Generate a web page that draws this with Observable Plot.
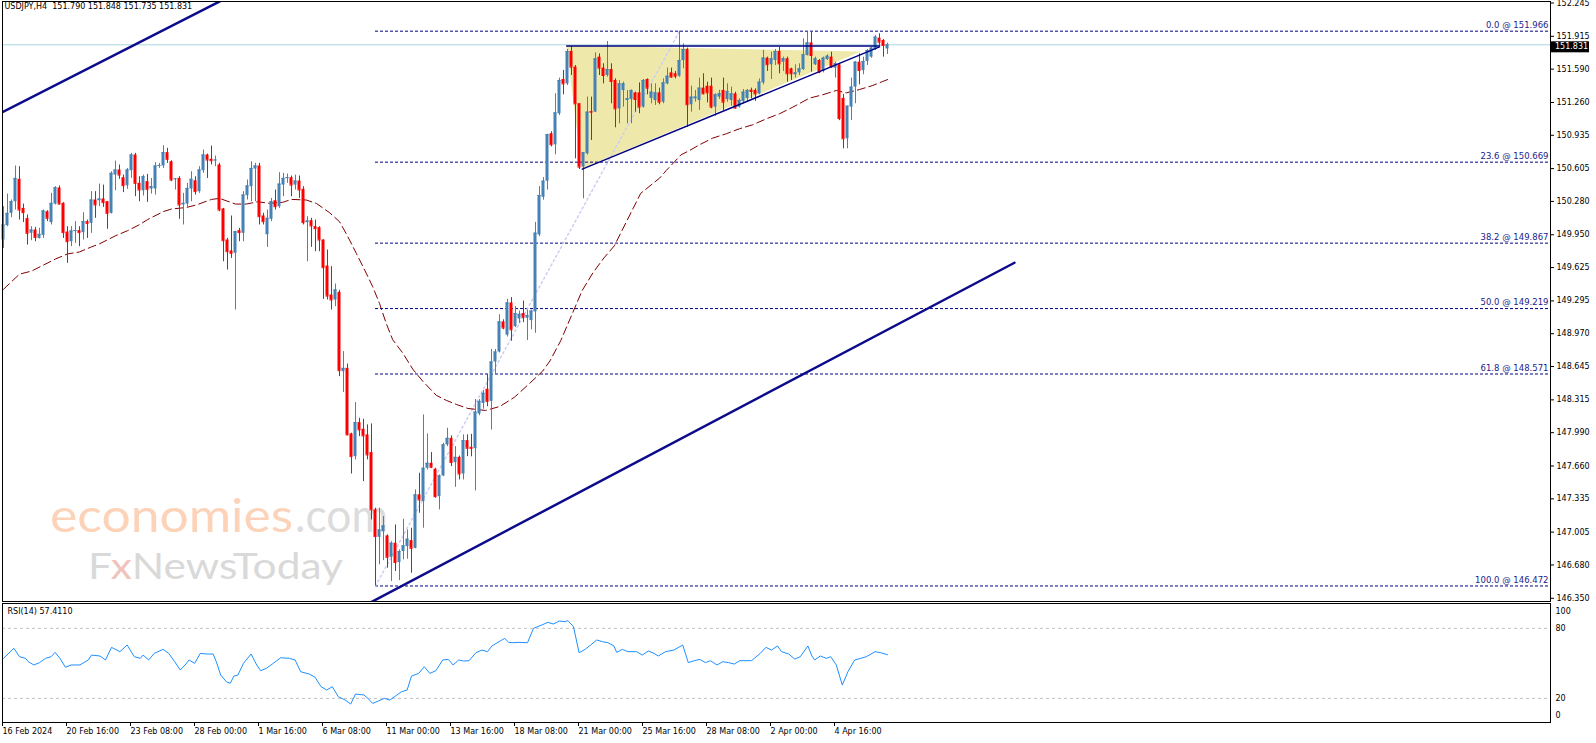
<!DOCTYPE html>
<html>
<head>
<meta charset="utf-8">
<script src="https://cdn.jsdelivr.net/npm/d3@7"></script>
<script src="https://cdn.jsdelivr.net/npm/@observablehq/plot@0.6"></script>
<style>
  html, body { margin: 0; padding: 0; background: #ffffff; }
  #wrap { position: relative; width: 1596px; height: 743px; overflow: hidden; background: #fff; }
  #wm { position: absolute; left: 0; top: 0; }
  #main { position: absolute; left: 0; top: 0; }
  #rsi { position: absolute; left: 0; top: 603px; }
</style>
</head>
<body>
<div id="wrap">
  <svg id="wm" width="1596" height="603">
    <text x="50" y="532" font-family="Lato" font-size="47" fill="#fcd3b9" textLength="243" lengthAdjust="spacingAndGlyphs">economies</text>
    <text x="295" y="532" font-family="Lato" font-size="47" fill="#dcdcdc" textLength="93" lengthAdjust="spacingAndGlyphs">.com</text>
    <text x="88" y="579" font-family="Lato" font-size="37" fill="#d9d9d9" textLength="255" lengthAdjust="spacingAndGlyphs">F<tspan fill="#f0c4bc">x</tspan>NewsToday</text>
  </svg>
  <div id="main"></div>
  <div id="rsi"></div>
</div>
<script>
// ---------------- DATA ----------------
const header = "USDJPY,H4  151.790 151.848 151.735 151.831";
const bid = 151.831;
const rsiLabel = "RSI(14) 57.4110";

const barOpen = [
149.898,150.040,150.162,150.277,150.499,150.211,150.110,149.964,149.997,149.914,
149.944,150.178,150.070,150.254,150.413,150.261,149.977,149.881,149.984,149.991,
149.971,150.080,150.063,150.294,150.287,150.304,150.277,150.162,150.541,150.591,
150.515,150.436,150.584,150.740,150.459,150.386,150.476,150.403,150.403,150.631,
150.631,150.763,150.673,150.499,150.508,150.245,150.254,150.403,150.485,150.377,
150.584,150.740,150.697,150.683,150.641,150.205,149.898,149.789,149.766,149.991,
149.964,150.337,150.426,150.601,150.631,150.136,149.950,150.103,150.287,150.228,
150.442,150.508,150.515,150.442,150.482,150.400,150.070,150.089,150.030,150.020,
149.898,149.640,149.353,149.304,149.380,148.594,148.627,147.978,147.753,148.090,
148.024,147.968,147.793,147.225,146.954,147.011,146.968,146.756,146.895,146.704,
146.813,146.862,146.921,146.845,147.374,147.308,147.638,147.687,147.628,147.357,
147.562,147.869,147.934,147.694,147.746,147.581,147.911,147.845,147.832,148.176,
148.280,148.420,148.300,148.690,148.789,149.087,148.956,149.275,149.040,149.116,
149.169,149.123,149.100,149.186,149.949,150.321,150.480,150.950,150.841,151.148,
151.487,151.444,151.765,151.610,151.247,150.620,150.752,151.171,151.164,151.709,
151.600,151.527,151.586,151.478,151.197,151.378,151.279,151.289,151.355,151.355,
151.214,151.487,151.300,151.279,151.355,151.263,151.444,151.553,151.544,151.520,
151.675,151.784,151.237,151.296,151.279,151.402,151.421,151.421,151.214,151.313,
151.379,151.289,151.280,151.345,151.214,151.270,151.300,151.382,151.379,151.345,
151.454,151.699,151.633,151.676,151.765,151.659,151.692,151.593,151.534,151.553,
151.586,151.725,151.850,151.633,151.676,151.567,151.685,151.709,151.600,151.633,
151.300,150.900,151.214,151.412,151.659,151.576,151.666,151.709,151.784,151.897,
151.874,151.790];

const barHigh = [
150.228,150.353,150.294,150.631,150.624,150.254,150.146,150.030,150.023,150.014,
150.195,150.188,150.360,150.426,150.433,150.268,150.030,150.030,150.080,150.030,
150.169,150.096,150.377,150.377,150.452,150.442,150.280,150.574,150.680,150.641,
150.541,150.607,150.756,150.756,150.525,150.541,150.548,150.508,150.664,150.657,
150.832,150.806,150.683,150.508,150.525,150.360,150.459,150.574,150.525,150.624,
150.789,150.749,150.829,150.730,150.657,150.211,149.914,150.136,149.985,150.014,
150.377,150.492,150.673,150.657,150.657,150.162,150.195,150.310,150.393,150.565,
150.558,150.551,150.532,150.541,150.532,150.426,150.129,150.113,150.096,150.030,
149.900,149.799,149.634,149.462,149.400,148.793,148.670,147.985,148.288,148.133,
148.123,148.067,148.077,147.242,147.242,147.159,146.978,146.911,147.077,146.829,
147.133,147.027,147.044,147.423,147.588,148.166,147.978,147.793,147.638,147.572,
147.885,148.034,147.958,147.852,147.759,147.968,147.968,147.974,148.318,148.318,
148.407,148.566,148.814,148.814,149.158,149.108,149.311,149.328,149.240,149.194,
149.293,149.204,149.204,150.073,150.427,150.516,150.945,150.970,151.346,151.501,
151.577,151.784,151.817,151.626,151.250,150.765,151.313,151.313,151.751,151.741,
151.643,151.864,151.643,151.494,151.478,151.461,151.378,151.385,151.362,151.454,
151.487,151.494,151.444,151.444,151.402,151.494,151.600,151.600,151.567,151.966,
151.840,151.798,151.421,151.378,151.501,151.544,151.461,151.501,151.346,151.380,
151.501,151.445,151.412,151.362,151.296,151.388,151.388,151.402,151.395,151.494,
151.775,151.709,151.758,151.784,151.807,151.709,151.709,151.600,151.633,151.643,
151.890,151.956,151.956,151.709,151.685,151.709,151.732,151.758,151.659,151.643,
151.340,151.223,151.501,151.666,151.742,151.709,151.784,151.807,151.923,151.940,
151.883,151.848];

const barLow = [
149.815,150.030,150.119,150.195,150.096,150.070,149.848,149.891,149.881,149.908,
149.914,150.080,150.047,150.245,150.245,149.914,149.667,149.832,149.865,149.832,
149.898,149.914,149.964,150.113,150.228,150.221,150.004,150.155,150.386,150.499,
150.367,150.400,150.508,150.327,150.277,150.334,150.271,150.353,150.343,150.607,
150.607,150.657,150.476,150.393,150.103,150.047,150.211,150.277,150.343,150.360,
150.558,150.508,150.641,150.624,150.178,149.683,149.601,149.716,149.205,149.881,
149.881,150.294,150.277,150.277,150.047,150.047,149.825,150.080,150.195,150.211,
150.327,150.459,150.327,150.393,150.310,150.047,149.683,149.825,149.782,149.782,
149.310,149.304,149.205,149.238,148.545,148.387,147.960,147.581,147.720,147.951,
147.506,147.720,147.126,146.473,146.681,146.723,146.648,146.516,146.615,146.525,
146.730,146.737,146.598,146.840,147.192,147.044,147.621,147.638,147.341,147.225,
147.555,147.852,147.654,147.449,147.522,147.522,147.753,147.751,147.414,148.158,
148.222,148.247,148.016,148.566,148.779,149.009,148.938,148.896,149.030,149.073,
149.080,148.903,149.009,148.974,149.931,150.292,150.392,150.820,150.742,151.131,
151.336,151.428,151.527,150.702,150.596,150.306,150.740,150.884,151.160,151.527,
151.444,151.511,151.247,151.009,151.049,151.214,151.049,151.049,151.164,151.148,
151.204,151.336,151.247,151.230,151.237,151.247,151.435,151.501,151.494,151.510,
151.593,151.015,151.164,151.263,151.181,151.336,151.256,151.197,151.124,151.290,
151.181,151.263,151.223,151.197,151.204,151.247,151.263,151.296,151.270,151.336,
151.435,151.567,151.487,151.626,151.544,151.567,151.461,151.478,151.501,151.527,
151.577,151.720,151.560,151.626,151.544,151.553,151.676,151.600,151.501,151.080,
150.801,150.801,151.081,151.247,151.435,151.534,151.626,151.699,151.775,151.817,
151.709,151.735];

const barClose = [
150.047,150.162,150.277,150.508,150.195,150.169,149.964,149.997,149.924,149.954,
150.185,150.113,150.261,150.416,150.254,149.971,149.881,149.987,149.991,149.971,
150.080,150.063,150.294,150.245,150.304,150.268,150.162,150.558,150.591,150.541,
150.436,150.591,150.740,150.459,150.393,150.525,150.400,150.426,150.631,150.636,
150.763,150.697,150.492,150.503,150.245,150.261,150.409,150.499,150.377,150.591,
150.740,150.690,150.683,150.690,150.195,149.891,149.782,149.766,149.980,149.971,
150.343,150.433,150.607,150.631,150.129,150.080,150.113,150.277,150.228,150.452,
150.508,150.515,150.442,150.482,150.393,150.070,150.086,150.037,150.010,149.898,
149.624,149.343,149.304,149.403,148.604,148.627,147.968,147.753,148.090,148.017,
147.958,147.770,147.225,146.961,147.027,147.067,146.756,146.895,146.704,146.813,
146.869,146.935,146.845,147.374,147.324,147.638,147.687,147.647,147.357,147.562,
147.869,147.934,147.694,147.746,147.581,147.911,147.836,147.835,148.194,148.300,
148.380,148.300,148.690,148.789,149.087,149.027,149.275,149.009,149.169,149.162,
149.133,149.151,149.194,149.966,150.339,150.480,150.941,150.841,151.157,151.478,
151.444,151.765,151.610,151.247,150.620,150.761,151.164,151.164,151.692,151.600,
151.527,151.586,151.468,151.197,151.444,151.444,151.296,151.378,151.289,151.214,
151.478,151.402,151.362,151.355,151.263,151.454,151.520,151.511,151.520,151.675,
151.784,151.237,151.313,151.313,151.402,151.346,151.355,151.214,151.336,151.346,
151.263,151.369,151.345,151.204,151.280,151.362,151.379,151.369,151.345,151.461,
151.699,151.633,151.692,151.765,151.643,151.692,151.544,151.544,151.553,151.593,
151.732,151.850,151.725,151.692,151.560,151.699,151.718,151.610,151.643,151.100,
150.900,151.223,151.412,151.659,151.576,151.666,151.775,151.798,151.907,151.857,
151.824,151.831];

// moving average (bar index, price)
const maBar = [0,4,7,10,13,16,19,22,24,28,31,34,36,40,42,45.7,48.2,52,54,58,60.7,63.6,66.5,69.8,72,75.7,78.2,81.5,84,86.1,88.2,90.3,92.3,94,95.7,97.3,99.8,102.3,104.8,108.2,110.7,113.2,116.1,120.5,124.1,127.7,131.3,134.8,136.6,139.3,142,144.7,147.4,150.1,152.7,159.3,164,165.7,169.4,171.5,174,177.3,180.7,184,187.3,190.7,194,197.3,201.5,204.8,208.2,210.7,214,217.3,219.8,221.5];
const maVal = [149.41,149.56,149.59,149.65,149.71,149.76,149.78,149.83,149.86,149.94,149.99,150.05,150.10,150.18,150.205,150.22,150.245,150.30,150.31,150.254,150.254,150.277,150.261,150.271,150.30,150.294,150.261,150.169,150.08,149.93,149.766,149.60,149.436,149.27,149.07,148.91,148.78,148.62,148.50,148.36,148.31,148.27,148.23,148.21,148.25,148.34,148.47,148.60,148.70,148.90,149.15,149.40,149.576,149.72,149.84,150.36,150.51,150.587,150.742,150.784,150.841,150.907,150.950,151.00,151.039,151.098,151.148,151.213,151.303,151.336,151.379,151.355,151.388,151.428,151.468,151.494];

// RSI(14) (bar index, value)
const rsiBar = [0,2.6,4.0,5.5,6.2,7.6,9.0,10.5,11.9,12.9,14.1,15.5,16.9,19.1,21.2,22.0,24.1,25.5,27.0,29.1,30.9,32.7,34.2,34.9,36.3,37.7,39.9,41.3,42.8,44.2,45.6,46.4,47.8,49.2,50.7,52.4,53.2,54.3,55.7,56.7,57.6,58.6,60.0,61.9,63.3,64.3,65.7,67.2,69.3,71.5,72.9,74.3,76.5,77.9,79.4,80.8,82.2,83.7,85.4,86.8,88.0,90.1,91.1,92.3,93.7,95.2,96.6,98.0,99.5,100.9,102.0,103.8,105.2,106.6,108.1,109.8,111.2,112.4,113.8,115.0,116.4,118.1,119.6,121.0,122.1,123.9,125.3,126.3,127.4,128.9,131.0,132.5,134.6,136.1,137.5,138.9,140.4,141.1,142.5,143.9,145.4,146.8,148.3,149.7,151.1,152.6,153.3,154.7,156.1,158.3,159.7,161.2,162.6,163.7,165.5,167.6,169.8,171.2,172.7,174.1,175.5,176.7,178.4,179.8,181.3,182.7,184.1,187.0,189.2,190.6,192.0,193.5,194.5,196.3,197.8,199.2,201.1,202.1,202.8,204.2,205.7,206.8,208.2,209.7,211.1,212.8,214.3,215.7,217.9,219.3,221.0];
const rsiVal = [54.3,62.9,55.7,54.3,51.4,48.6,50.6,54.3,55.7,59.4,54.3,46.6,48.6,48.6,52.9,57.1,56.3,52.9,63.7,60.0,65.7,55.7,54.3,57.1,52.9,58.6,62.0,58.6,51.4,44.3,49.4,52.9,50.0,58.6,58.0,58.0,51.4,40.0,34.3,32.9,39.1,40.0,50.0,58.0,48.6,43.7,45.7,49.4,54.8,54.3,52.9,42.8,40.8,38.0,30.0,27.1,30.0,21.4,18.6,15.1,23.7,22.9,20.0,15.7,17.7,20.0,18.6,22.0,25.7,27.1,39.1,41.4,47.1,41.4,43.7,52.9,53.4,48.6,52.9,52.0,52.3,59.1,61.4,60.0,64.9,68.6,71.4,68.0,67.7,68.0,67.7,80.0,82.9,85.1,83.7,86.3,85.7,86.6,81.4,59.1,62.0,65.7,70.0,68.6,67.7,64.9,59.4,62.0,60.0,60.0,57.1,60.6,58.6,56.3,60.0,61.4,65.7,50.6,52.3,53.4,50.6,52.3,48.6,51.4,50.6,49.4,52.3,52.3,58.6,63.7,61.4,64.9,60.0,58.0,53.7,55.7,64.9,56.3,52.9,56.3,54.3,55.7,48.6,31.4,42.8,52.9,54.3,55.7,60.0,59.1,57.4];
const rsiLevels = [80, 20];

// Fibonacci retracement
const fibLevels = ["0.0", "23.6", "38.2", "50.0", "61.8", "100.0"];
const fibPrices = [151.966, 150.669, 149.867, 149.219, 148.571, 146.472];
const fibStartBar = 93;
const fibBaseBars = [93, 169];
const fibBasePrices = [146.472, 151.966];

// drawn objects (bar index, price)
const upperChannelBars = [-1, 56];
const upperChannelPrices = [151.15, 152.30];
const lowerChannelBars = [88, 252.75];
const lowerChannelPrices = [146.23, 149.673];
const resistanceBars = [140.8, 219];
const resistancePrices = [151.82, 151.82];
const supportBars = [144.7, 219];
const supportPrices = [150.60, 151.81];
const triangleBars = [140.8, 144.7, 214.5];
const triangleLow = [151.82, 150.60, 151.76];
const triangleHigh = [151.82, 151.817, 151.76];

// axes
const priceTicks = [152.245,151.915,151.590,151.260,150.935,150.605,150.280,149.950,149.625,149.295,148.970,148.645,148.315,147.990,147.660,147.335,147.005,146.680,146.350];
const dateTickBars = [0,16,32,48,64,80,96,112,128,144,160,176,192,208];
const dateTickLabels = ["16 Feb 2024","20 Feb 16:00","23 Feb 08:00","28 Feb 00:00","1 Mar 16:00","6 Mar 08:00","11 Mar 00:00","13 Mar 16:00","18 Mar 08:00","21 Mar 00:00","25 Mar 16:00","28 Mar 08:00","2 Apr 00:00","4 Apr 16:00"];

// ---------------- BUILD ----------------
const BULL = "#4682b4", BEAR = "#ff0000", NAVY = "#000080", FONT = "DejaVu Sans";

const bars = barOpen.map((o, i) => ({
  i, o, h: barHigh[i], l: barLow[i], c: barClose[i],
  col: barClose[i] >= o ? BULL : BEAR
}));
const ma = maBar.map((b, k) => ({b, v: maVal[k]}));
const rsi = rsiBar.map((b, k) => ({b, v: rsiVal[k]}));
const fibs = fibLevels.map((lv, k) => ({price: fibPrices[k], label: `${lv} @ ${fibPrices[k].toFixed(3)}`}));
const pairs = (bs, ps) => bs.map((b, k) => ({b, p: ps[k]}));
const tri = triangleBars.map((b, k) => ({b, lo: triangleLow[k], hi: triangleHigh[k]}));

const xScale = {type: "linear", domain: [-0.25, 386.75], range: [2, 1550]};
const common = {
  width: 1596, marginLeft: 2, marginRight: 46,
  style: {background: "transparent", fontFamily: FONT, fontSize: "8px", color: "#000", overflow: "visible"}
};

const main = Plot.plot({
  ...common,
  height: 603, marginTop: 1, marginBottom: 2,
  x: {...xScale, axis: null},
  y: {type: "linear", domain: [146.350, 152.245], range: [597.8, 2.5]},
  color: {type: "identity"},
  marks: [
    Plot.areaY(tri, {x: "b", y1: "lo", y2: "hi", fill: "#eee8aa"}),
    Plot.ruleY([bid], {stroke: "#a9d6e0"}),
    Plot.ruleY(fibs, {y: "price", x1: () => fibStartBar, x2: () => xScale.domain[1], stroke: NAVY, strokeDasharray: "3,2"}),
    Plot.line(pairs(fibBaseBars, fibBasePrices), {x: "b", y: "p", stroke: "#cdcdf3", strokeDasharray: "2,3"}),
    Plot.line(ma, {x: "b", y: "v", stroke: "#800000", strokeWidth: 1, strokeDasharray: "8,4"}),
    Plot.ruleX(bars, {x: "i", y1: "l", y2: "h", stroke: "col"}),
    Plot.rect(bars, {x1: d => d.i - 0.375, x2: d => d.i + 0.375, y1: "o", y2: "c", fill: "col"}),
    Plot.ruleY(bars, {x1: d => d.i - 0.375, x2: d => d.i + 0.375, y: "c", stroke: "col"}),
    Plot.line(pairs(upperChannelBars, upperChannelPrices), {x: "b", y: "p", stroke: "#0b0b8c", strokeWidth: 2.5, clip: true}),
    Plot.line(pairs(lowerChannelBars, lowerChannelPrices), {x: "b", y: "p", stroke: "#0b0b8c", strokeWidth: 2.5, clip: true}),
    Plot.line(pairs(resistanceBars, resistancePrices), {x: "b", y: "p", stroke: NAVY, strokeWidth: 1.5}),
    Plot.line(pairs(supportBars, supportPrices), {x: "b", y: "p", stroke: NAVY, strokeWidth: 1.5}),
    Plot.text(fibs, {y: "price", text: "label", frameAnchor: "right", textAnchor: "end", dx: -2, dy: -6, fill: "#1c1c8c", fontSize: 8.5}),
    Plot.text([header], {frameAnchor: "top-left", textAnchor: "start", lineAnchor: "top", dx: 2, dy: 2, fill: "#000"}),
    Plot.axisY({anchor: "right", ticks: priceTicks, tickFormat: d => d.toFixed(3), tickSize: 3, tickPadding: 3, label: null}),
    Plot.frame({stroke: "#000"})
  ]
});
document.getElementById("main").appendChild(main);

// current price tag on the price axis
{
  const yy = main.scale("y").apply(bid) + 0.5;
  const g = d3.select(main).append("g");
  g.append("rect").attr("x", 1551).attr("y", yy - 3.5).attr("width", 38).attr("height", 11).attr("fill", "#000");
  g.append("text").attr("x", 1555).attr("y", yy + 2).attr("dominant-baseline", "middle")
    .attr("text-anchor", "start").attr("fill", "#fff").attr("font-size", 8).text(bid.toFixed(3));
}

const rsiPlot = Plot.plot({
  ...common,
  height: 140, marginTop: 0, marginBottom: 21,
  x: {...xScale},
  y: {type: "linear", domain: [0, 100], range: [118.2, 1.5]},
  marks: [
    Plot.ruleY(rsiLevels, {stroke: "#c0c0c0", strokeDasharray: "3,3"}),
    Plot.line(rsi, {x: "b", y: "v", stroke: "#1e90ff", strokeWidth: 1}),
    Plot.text([rsiLabel], {frameAnchor: "top-left", textAnchor: "start", lineAnchor: "top", dx: 5, dy: 5, fill: "#000"}),
    Plot.axisY({anchor: "right", ticks: rsiLevels, tickSize: 0, tickPadding: 5, label: null}),
    Plot.text([100], {y: d => d, text: d => String(d), frameAnchor: "right", textAnchor: "start", dx: 5, dy: 6, fill: "#000"}),
    Plot.text([0], {y: d => d, text: d => String(d), frameAnchor: "right", textAnchor: "start", dx: 5, dy: -6, fill: "#000"}),
    Plot.axisX({anchor: "bottom", ticks: dateTickBars, tickFormat: d => dateTickLabels[dateTickBars.indexOf(d)], tickSize: 4, tickPadding: 2, textAnchor: "start", dx: -1, label: null}),
    Plot.frame({stroke: "#000"})
  ]
});
document.getElementById("rsi").appendChild(rsiPlot);
</script>
</body>
</html>
